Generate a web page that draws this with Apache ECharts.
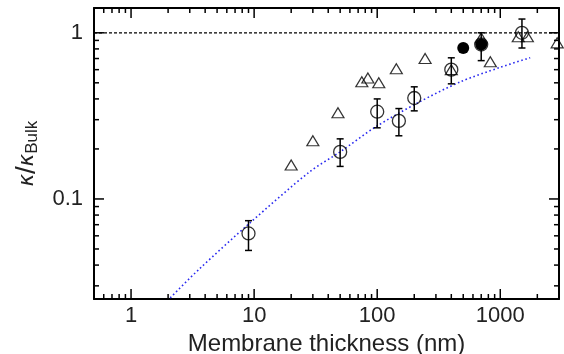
<!DOCTYPE html>
<html>
<head>
<meta charset="utf-8">
<script src="https://cdn.jsdelivr.net/npm/echarts@6/dist/echarts.min.js"></script>
<style>
  html, body { margin: 0; padding: 0; background: #fff; }
  #chart { width: 564px; height: 354px; }
</style>
</head>
<body>
<div id="chart"></div>
<script>
// axis ranges
var xRange = [0.5, 3000];
var yRange = [0.025, 1.41];

// tick positions
var xMajor = [1, 10, 100, 1000];
var xMinor = [0.6, 0.7, 0.8, 0.9, 2, 3, 4, 5, 6, 7, 8, 9, 20, 30, 40, 50, 60, 70, 80, 90,
	200, 300, 400, 500, 600, 700, 800, 900, 2000];
var yMajor = [0.1, 1];
var yMinor = [0.03, 0.04, 0.05, 0.06, 0.07, 0.08, 0.09, 0.2, 0.3, 0.4, 0.5, 0.6, 0.7, 0.8, 0.9];

// open circles with error bars
var circX = [9, 50, 100, 150, 200, 400, 700, 1500];
var circY = [0.062, 0.192, 0.335, 0.295, 0.405, 0.60, 0.85, 1.0];
var circLo = [0.049, 0.157, 0.268, 0.24, 0.339, 0.493, 0.68, 0.81];
var circHi = [0.074, 0.23, 0.40, 0.35, 0.473, 0.707, 1.0, 1.21];

// triangles
var triX = [20, 30, 48, 75, 84, 103, 143, 245, 400, 700, 830, 1400, 1660, 2900];
var triY = [0.16, 0.224, 0.33, 0.507, 0.535, 0.50, 0.607, 0.70, 0.60, 0.93, 0.67, 0.946, 0.946, 0.87];

// filled circles
var fillX = [500, 700];
var fillY = [0.81, 0.85];

// model curve (blue dotted)
var modelX = [2.08, 3.6, 9.3, 28, 50, 96, 215, 474, 1000, 1750];
var modelY = [0.0254, 0.038, 0.072, 0.145, 0.192, 0.27, 0.38, 0.507, 0.62, 0.707];

// bulk reference
var refX = [0.5, 3000];
var refY = [1, 1];

function zip(a, b) {
	return a.map(function (v, i) { return [v, b[i]]; });
}

var myChart = echarts.init(document.getElementById('chart'));

var tickFont = 'Liberation Sans';

var option = {
	animation: false,
	grid: { left: 94, right: 5, top: 8, bottom: 55, outerBoundsMode: 'none', containLabel: false },
	xAxis: [{
		type: 'log', min: xRange[0], max: xRange[1],
		name: 'Membrane thickness (nm)', nameLocation: 'middle', nameGap: 25,
		nameTextStyle: { fontFamily: tickFont, fontSize: 24, color: '#222' },
		axisLine: { show: true, lineStyle: { color: '#000', width: 2 } },
		axisTick: { show: false },
		axisLabel: { showMinLabel: false, showMaxLabel: false, margin: 6,
			fontFamily: tickFont, fontSize: 22, color: '#222',
			formatter: function (v) { return String(v); } },
		splitLine: { show: false }
	}, {
		type: 'log', min: xRange[0], max: xRange[1], position: 'top',
		axisLine: { show: true, lineStyle: { color: '#000', width: 2 } },
		axisTick: { show: false },
		axisLabel: { show: false },
		splitLine: { show: false }
	}],
	yAxis: [{
		type: 'log', min: yRange[0], max: yRange[1],
		name: '{k|κ}{d|/}{k|κ}{s|Bulk}', nameLocation: 'middle', nameGap: 46,
		nameTextStyle: {
			color: '#222',
			rich: {
				k: { fontFamily: 'DejaVu Sans', fontStyle: 'italic', fontSize: 21, color: '#222' },
				d: { fontFamily: tickFont, fontSize: 28, color: '#222' },
				s: { fontFamily: tickFont, fontSize: 17, color: '#222', padding: [10, 0, 0, 0] }
			}
		},
		axisLine: { show: true, lineStyle: { color: '#000', width: 2 } },
		axisTick: { show: false },
		axisLabel: { showMinLabel: false, showMaxLabel: false, margin: 11,
			fontFamily: tickFont, fontSize: 22, color: '#222',
			formatter: function (v) { return String(v); } },
		splitLine: { show: false }
	}, {
		type: 'log', min: yRange[0], max: yRange[1], position: 'right',
		axisLine: { show: true, lineStyle: { color: '#000', width: 2 } },
		axisTick: { show: false },
		axisLabel: { show: false },
		splitLine: { show: false }
	}],
	series: [{
		name: 'Bulk',
		type: 'line',
		data: zip(refX, refY),
		symbol: 'none',
		lineStyle: { color: '#000', width: 1.2, type: [3, 2] },
		z: 2
	}, {
		name: 'Model',
		type: 'line',
		data: zip(modelX, modelY),
		symbol: 'none',
		smooth: 0.3,
		lineStyle: { color: '#2a2af0', width: 1.6, type: [1.6, 2.6] },
		z: 2
	}, {
		name: 'errors',
		type: 'custom',
		data: circX.map(function (v, i) { return [v, circLo[i], circHi[i]]; }),
		encode: { x: 0, y: [1, 2] },
		renderItem: function (params, api) {
			var x = api.value(0);
			var p1 = api.coord([x, api.value(2)]);
			var p2 = api.coord([x, api.value(1)]);
			var w = 3.5;
			return { type: 'group', children: [
				{ type: 'line', shape: { x1: p1[0], y1: p1[1], x2: p2[0], y2: p2[1] }, style: { stroke: '#000', lineWidth: 1.5 } },
				{ type: 'line', shape: { x1: p1[0] - w, y1: p1[1], x2: p1[0] + w, y2: p1[1] }, style: { stroke: '#000', lineWidth: 1.5 } },
				{ type: 'line', shape: { x1: p2[0] - w, y1: p2[1], x2: p2[0] + w, y2: p2[1] }, style: { stroke: '#000', lineWidth: 1.5 } }
			] };
		},
		z: 3
	}, {
		name: 'Triangles',
		type: 'scatter',
		data: zip(triX, triY),
		symbol: 'triangle',
		symbolSize: [12, 10],
		itemStyle: { color: 'rgba(255,255,255,0)', borderColor: '#000', borderWidth: 1.2 },
		z: 4
	}, {
		name: 'Circles',
		type: 'scatter',
		data: zip(circX, circY),
		symbol: 'circle',
		symbolSize: 13,
		itemStyle: { color: 'rgba(255,255,255,0)', borderColor: '#000', borderWidth: 1.3 },
		z: 4
	}, {
		name: 'Filled',
		type: 'scatter',
		data: zip(fillX, fillY),
		symbol: 'circle',
		symbolSize: 12,
		itemStyle: { color: '#000', opacity: 1 },
		z: 4
	}]
};

myChart.setOption(option);

// frame ticks on all four sides, placed through the axes' own scales
var ticks = [];
function pix(v) {
	return myChart.convertToPixel({ xAxisIndex: 0, yAxisIndex: 0 }, v);
}
function addX(vals, len) {
	vals.forEach(function (v) {
		var b = pix([v, yRange[0]]);
		var t = pix([v, yRange[1]]);
		ticks.push({ type: 'line', z: 100, shape: { x1: b[0], y1: b[1], x2: b[0], y2: b[1] - len }, style: { stroke: '#000', lineWidth: 1.5 } });
		ticks.push({ type: 'line', z: 100, shape: { x1: t[0], y1: t[1], x2: t[0], y2: t[1] + len }, style: { stroke: '#000', lineWidth: 1.5 } });
	});
}
function addY(vals, len) {
	vals.forEach(function (v) {
		var l = pix([xRange[0], v]);
		var r = pix([xRange[1], v]);
		ticks.push({ type: 'line', z: 100, shape: { x1: l[0], y1: l[1], x2: l[0] + len, y2: l[1] }, style: { stroke: '#000', lineWidth: 1.5 } });
		ticks.push({ type: 'line', z: 100, shape: { x1: r[0], y1: r[1], x2: r[0] - len, y2: r[1] }, style: { stroke: '#000', lineWidth: 1.5 } });
	});
}
addX(xMajor, 10);
addX(xMinor, 5);
addY(yMajor, 10);
addY(yMinor, 5);
myChart.setOption({ graphic: ticks });
</script>
</body>
</html>
